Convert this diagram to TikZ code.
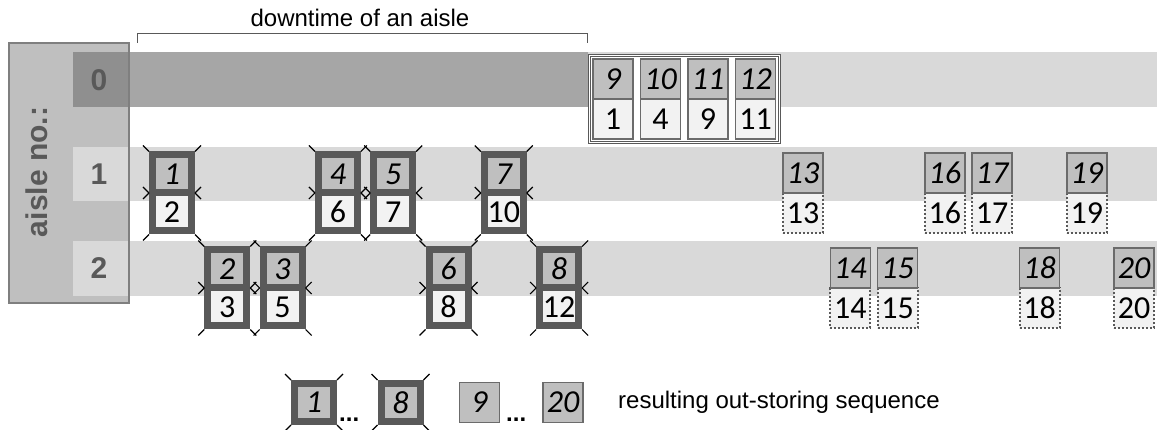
\documentclass[tikz,border=0pt]{standalone}
\usepackage{fontspec}
\setmainfont{Liberation Sans}[BoldFont={Liberation Sans Bold}]
\newfontfamily\boxfont{Carlito}
\newfontfamily\rowfont{Liberation Sans Bold}
\usetikzlibrary{calc}

\definecolor{bandgray}{HTML}{D9D9D9}
\definecolor{downgray}{HTML}{A6A6A6}
\definecolor{zerogray}{HTML}{8F8F8F}
\definecolor{panelgray}{HTML}{BFBFBF}
\definecolor{paneledge}{HTML}{7F7F7F}
\definecolor{cellgray}{HTML}{BFBFBF}
\definecolor{cellwhite}{HTML}{F2F2F2}
\definecolor{heavygray}{HTML}{595959}
\definecolor{thingray}{HTML}{6B6B6B}

\newcommand{\cellsize}{\fontsize{32}{32}\selectfont}

\tikzset{
  cell/.style={minimum width=40pt, minimum height=40pt, inner sep=0pt,
    line width=1.5pt, draw=thingray},
  upcell/.style={cell, fill=cellgray, font=\boxfont\cellsize\itshape},
  lowcell/.style={cell, fill=cellwhite, font=\boxfont\cellsize},
  heavy/.style={draw=heavygray, line width=7pt, minimum width=39pt, minimum height=38pt},
  plan/.style={draw=heavygray, line width=2pt, dash pattern=on 2pt off 2pt},
  tick/.style={line width=1.2pt, black},
  band/.style={fill=bandgray},
  rowno/.style={font=\rowfont\fontsize{30}{30}\selectfont, text=heavygray},
  frame/.style={draw=heavygray, double=white, double distance=1.5pt, line width=1pt},
}

% stored box with both neighbours blocked
\newcommand{\heavybox}[5]{%
  \node[lowcell,heavy] (#1b) at (#2,#3+38) {#5};
  \node[upcell,heavy] (#1t) at (#2,#3) {#4};
  \draw[tick] (#1t.north west) -- ++(-6,-6) (#1t.north east) -- ++(6,-6)
    ([yshift=3.5pt]#1t.south west) -- ++(-6,-6) ([yshift=3.5pt]#1t.south west) -- ++(-6,6)
    ([yshift=3.5pt]#1t.south east) -- ++(6,-6) ([yshift=3.5pt]#1t.south east) -- ++(6,6)
    (#1b.south west) -- ++(-6,6) (#1b.south east) -- ++(6,6);
}
\newcommand{\heavyone}[4]{%
  \node[upcell,heavy] (#1) at (#2,#3) {#4};
  \draw[tick] (#1.north west) -- ++(-6,-6) (#1.north east) -- ++(6,-6)
    (#1.south west) -- ++(-6,6) (#1.south east) -- ++(6,6);
}
\newcommand{\planbox}[5]{%
  \node[lowcell,plan] (#1b) at (#2,#3+40) {#5};
  \node[upcell] (#1t) at (#2,#3) {#4};
}
\newcommand{\groupbox}[5]{%
  \node[lowcell] (#1b) at (#2,#3+40) {#5};
  \node[upcell] (#1t) at (#2,#3) {#4};
}

\begin{document}
\begin{tikzpicture}[x=1pt,y=-1pt]
  \useasboundingbox (0,0) rectangle (1157,430);
  %panel and aisles
  \fill[panelgray] (9,43) rectangle (129,303);
  \fill[band] (588,52) rectangle (1157,107);
  \fill[downgray] (73,52) rectangle (588,107);
  \fill[zerogray] (73,52) rectangle (128,107);
  \fill[band] (73,147) rectangle (1157,201);
  \fill[band] (73,241) rectangle (1157,296);
  \draw[paneledge, line width=1.5pt] (9,43) rectangle (129,303);
  \node[rowno, rotate=90] (aisle) at (37,172) {aisle no.:};
  \node[rowno] (r0) at (99,80) {0};
  \node[rowno] (r1) at (99,174) {1};
  \node[rowno] (r2) at (99,268) {2};

  %downtime
  \draw[heavygray, line width=1pt] (137,43) -- (137,34) -- (587,34) -- (587,43);
  \node[anchor=base, font=\fontsize{24}{24}\selectfont] (down) at (360,27) {downtime of an aisle};

  %boxes waiting in aisle 0
  \draw[frame, fill=white] (589.5,55.5) rectangle (779.5,142.5);
  \groupbox{g9}{613}{79}{9}{1}
  \groupbox{g10}{660.5}{79}{10}{4}
  \groupbox{g11}{708}{79}{11}{9}
  \groupbox{g12}{755.5}{79}{12}{11}

  %blocked boxes
  \heavybox{h1}{172}{174}{1}{2}
  \heavybox{h2}{227.3}{269}{2}{3}
  \heavybox{h3}{282.6}{269}{3}{5}
  \heavybox{h4}{337.9}{174}{4}{6}
  \heavybox{h5}{393.2}{174}{5}{7}
  \heavybox{h6}{448.5}{269}{6}{8}
  \heavybox{h7}{503.8}{174}{7}{10}
  \heavybox{h8}{559.1}{269}{8}{12}

  %planned boxes
  \planbox{p13}{803}{173}{13}{13}
  \planbox{p14}{850.3}{268}{14}{14}
  \planbox{p15}{897.6}{268}{15}{15}
  \planbox{p16}{944.9}{173}{16}{16}
  \planbox{p17}{992.2}{173}{17}{17}
  \planbox{p18}{1039.5}{268}{18}{18}
  \planbox{p19}{1086.8}{173}{19}{19}
  \planbox{p20}{1134.1}{268}{20}{20}

  %legend
  \heavyone{l1}{314}{402.5}{1}
  \heavyone{l8}{400.5}{402.5}{8}
  \node[upcell] (l9) at (479.5,402.5) {9};
  \node[upcell] (l20) at (563,402.5) {20};
  \node[anchor=base west, inner sep=0pt, font=\rowfont\fontsize{24}{24}\selectfont] (dotsa) at (339,421) {...};
  \node[anchor=base west, inner sep=0pt, font=\rowfont\fontsize{24}{24}\selectfont] (dotsb) at (506,421) {...};
  \node[anchor=west, inner sep=0pt, font=\fontsize{24}{24}\selectfont] (seq) at (618,402) {resulting out-storing sequence};
\end{tikzpicture}
\end{document}
